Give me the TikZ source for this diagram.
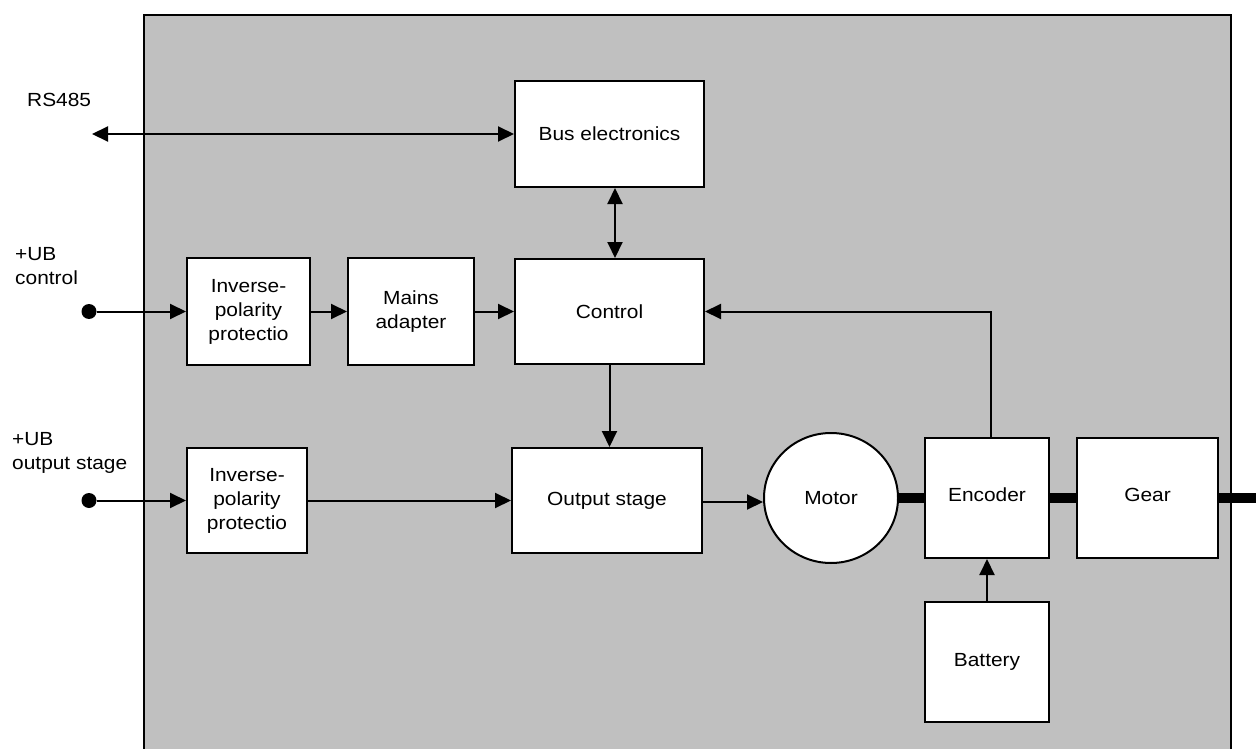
\documentclass[tikz,border=0pt]{standalone}
\usepackage{fontspec}
\setmainfont{Liberation Sans}[FakeStretch=1.1]
\usetikzlibrary{arrows.meta,shapes.geometric}
\definecolor{panelgray}{HTML}{C0C0C0}
\tikzset{
  blk/.style={draw=black, fill=white, line width=2pt, inner sep=0pt, align=center},
  conn/.style={line width=2pt, -{Triangle[length=16pt,width=15pt]}},
  biconn/.style={line width=2pt, {Triangle[length=16pt,width=15pt]}-{Triangle[length=16pt,width=15pt]}},
  shaft/.style={line width=10pt},
  lbl/.style={anchor=base west, inner sep=0pt},
  terminal/.style={circle, fill=black, inner sep=0pt, minimum size=15pt}
}
\begin{document}
\begin{tikzpicture}[x=1pt, y=-1pt, font=\fontsize{19}{24}\selectfont]
\useasboundingbox (0,0) rectangle (1256,749);
% housing
\fill[panelgray] (144,15) rectangle (1231,749);
\draw[line width=2pt] (144,749) -- (144,15) -- (1231,15) -- (1231,749);

% blocks
\node[blk, minimum width=189pt, minimum height=106pt] (bus) at (609.5,134) {Bus electronics};
\node[blk, minimum width=189pt, minimum height=105pt] (ctrl) at (609.5,311.5) {Control};
\node[blk, minimum width=123pt, minimum height=107pt] (inv1) at (248.5,311.5) {Inverse-\\polarity\\protectio};
\node[blk, minimum width=126pt, minimum height=107pt] (mains) at (411,311.5) {Mains\\adapter};
\node[blk, minimum width=120pt, minimum height=105pt] (inv2) at (247,500.5) {Inverse-\\polarity\\protectio};
\node[blk, minimum width=190pt, minimum height=105pt] (out) at (607,500.5) {Output stage};
\node[blk, ellipse, minimum width=134pt, minimum height=130pt] (motor) at (831,498) {Motor};
\node[blk, minimum width=124pt, minimum height=120pt] (enc) at (987,498) {\raisebox{6pt}{Encoder}};
\node[blk, minimum width=141pt, minimum height=120pt] (gear) at (1147.5,498) {\raisebox{6pt}{Gear}};
\node[blk, minimum width=124pt, minimum height=120pt] (bat) at (987,662) {\raisebox{5pt}{Battery}};

% terminals and external labels
\coordinate (rs) at (92,134);
\node[terminal] (t1) at (89,311.5) {};
\node[terminal] (t2) at (89,500.5) {};
\node[lbl] (rslbl) at (27,107) {RS485};
\node[lbl] (ub1) at (15,260) {+UB};
\node[lbl] (ub1b) at (15,284) {control};
\node[lbl] (ub2) at (12,445) {+UB};
\node[lbl] (ub2b) at (12,469) {output stage};

% connectors
\draw[biconn] (rs) -- (bus.west);
\draw[biconn] ([xshift=5.5pt]bus.south) -- ([xshift=5.5pt]ctrl.north);
\draw[conn] (ctrl.south) -- (ctrl.south |- out.north);
\draw[conn] (t1) -- (inv1.west);
\draw[conn] (inv1.east) -- (mains.west);
\draw[conn] (mains.east) -- (ctrl.west);
\draw[conn] (t2) -- (inv2.west);
\draw[conn] (inv2.east) -- (out.west);
\draw[conn] ([yshift=-1.5pt]out.east) -- ([yshift=-1.5pt]out.east -| motor.west);
\draw[conn] (bat.north) -- (enc.south);
\draw[conn] ([xshift=4pt]enc.north) |- (ctrl.east);

% shafts
\coordinate (shaftend) at (1256,498);
\draw[shaft] (motor.east) -- (enc.west);
\draw[shaft] (enc.east) -- (gear.west);
\draw[shaft] (gear.east) -- (shaftend);
\end{tikzpicture}
\end{document}
